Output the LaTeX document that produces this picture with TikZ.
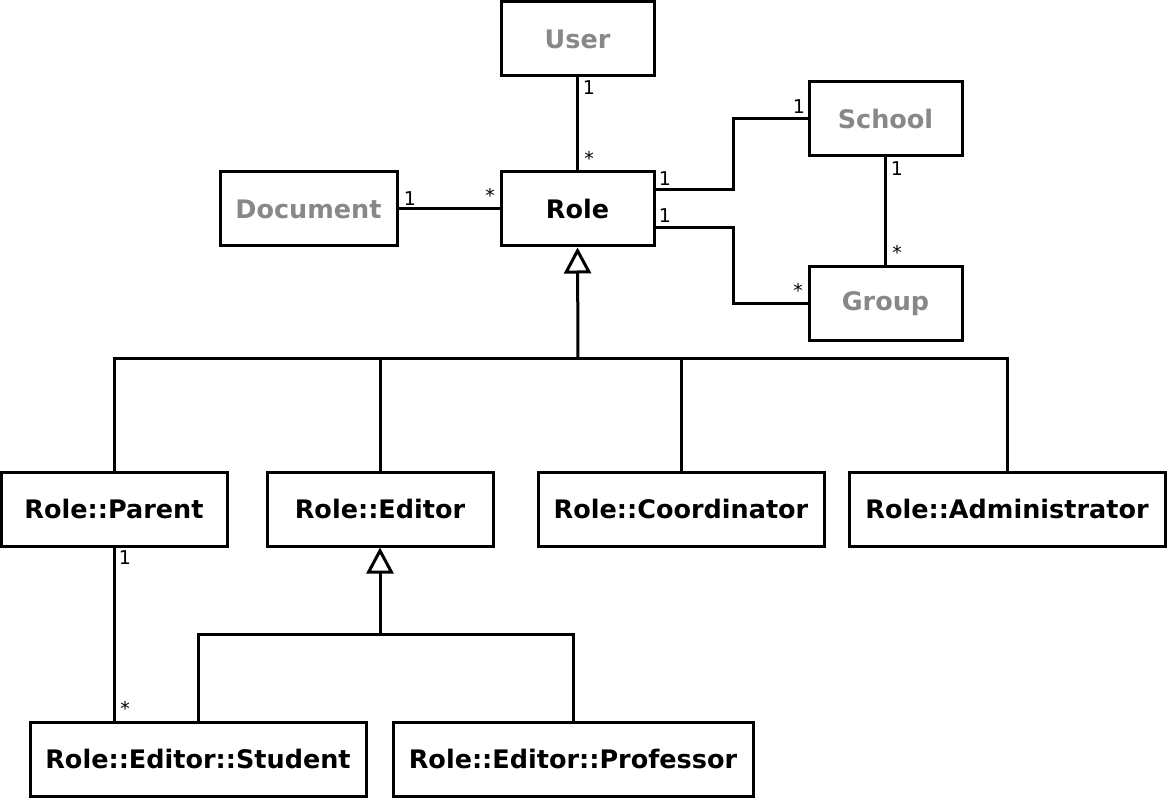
\documentclass[tikz,border=0pt]{standalone}
\usepackage{fontspec}
\setmainfont{DejaVu Sans}
\usetikzlibrary{arrows.meta,calc}
\definecolor{ghost}{HTML}{888888}
\tikzset{
  cls/.style={draw, line width=3pt, minimum height=74pt, inner sep=0pt,
    font=\fontsize{25.5}{30}\selectfont\bfseries},
  ext/.style={cls, text=ghost},
  conn/.style={line width=3pt},
  inh/.style={conn, -{Triangle[open, length=26pt, width=27pt, line width=3pt]}},
  mult/.style={inner sep=0pt, font=\fontsize{19}{21}\selectfont}
}
\begin{document}
\begin{tikzpicture}[x=1pt, y=-1pt]
\useasboundingbox (0,0) rectangle (1167,799);
% classes
\node[ext, minimum width=153pt] (U) at (577.5,39) {User};
\node[cls, minimum width=153pt] (R) at (577.5,209) {Role};
\node[ext, minimum width=177pt] (D) at (308.5,209) {Document};
\node[ext, minimum width=153pt] (S) at (885.5,119) {School};
\node[ext, minimum width=153pt] (G) at (885.5,303.5) {Group};
\node[cls, minimum width=226pt] (P) at (114,509) {Role::Parent};
\node[cls, minimum width=226pt] (E) at (380,509) {Role::Editor};
\node[cls, minimum width=286pt] (C) at (681,509) {Role::Coordinator};
\node[cls, minimum width=316pt] (A) at (1007,509) {Role::Administrator};
\node[cls, minimum width=336pt] (ST) at (198,759) {Role::Editor::Student};
\node[cls, minimum width=360pt] (PR) at (573,759) {Role::Editor::Professor};
% associations
\draw[conn] (U.south) -- (R.north);
\node[mult] (m1) at (589,88) {1};
\node[mult] (m2) at (589,158) {*};
\draw[conn] (D.east) -- (R.west);
\node[mult] (m3) at (410,199) {1};
\node[mult] (m4) at (490,195) {*};
\draw[conn] ($(R.east)+(0,-19)$) -- ++(78,0) |- (S.west);
\node[mult] (m5) at (665,179) {1};
\node[mult] (m6) at (799,107) {1};
\draw[conn] ($(R.east)+(0,19)$) -- ++(78,0) |- (G.west);
\node[mult] (m7) at (665,216) {1};
\node[mult] (m8) at (798,290) {*};
\draw[conn] (S.south) -- (G.north);
\node[mult] (m9) at (897,169) {1};
\node[mult] (m10) at (897,252) {*};
\draw[conn] (P.south) -- (P.south |- ST.north);
\node[mult] (m11) at (125,558) {1};
\node[mult] (m12) at (125,708) {*};
% generalisation to Role
\coordinate (hb) at (578,359);
\draw[inh] (hb) -- (R.south);
\draw[conn] (P.north) |- (A.north |- hb) -- (A.north);
\draw[conn] (E.north) -- (E.north |- hb);
\draw[conn] (C.north) -- (C.north |- hb);
% generalisation to Role::Editor
\coordinate (eb) at (380,634);
\draw[inh] (eb) -- (E.south);
\draw[conn] (ST.north) |- (PR.north |- eb) -- (PR.north);
\end{tikzpicture}
\end{document}
